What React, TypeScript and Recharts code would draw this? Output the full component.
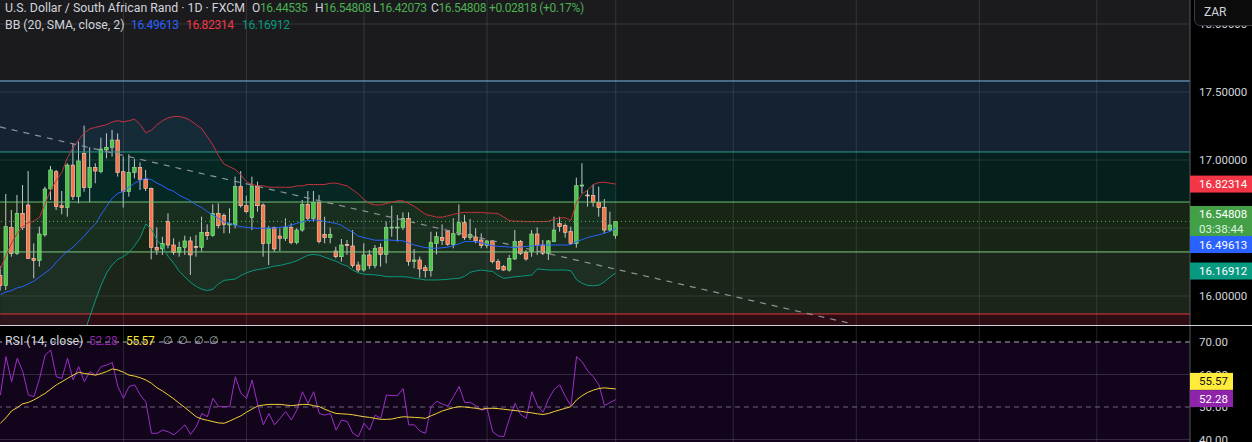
import React from "react";
import { ComposedChart, Bar, Line, Area, XAxis, YAxis, ReferenceLine, ReferenceArea } from "recharts";

// ---------- data (index -1 .. 109, one entry per daily candle) ----------
const START_INDEX = -1;
const opens = [16.150,16.076,16.505,16.314,16.608,16.669,16.277,16.260,16.449,16.787,16.914,16.664,16.650,16.963,16.731,17.049,16.797,16.944,16.914,17.074,17.093,17.147,16.914,16.767,16.909,16.946,16.858,16.792,16.358,16.346,16.547,16.375,16.319,16.358,16.405,16.365,16.358,16.468,16.444,16.608,16.591,16.522,16.522,16.804,16.664,16.576,16.809,16.669,16.387,16.503,16.441,16.424,16.505,16.392,16.485,16.674,16.571,16.689,16.454,16.429,16.331,16.289,16.380,16.368,16.228,16.191,16.302,16.223,16.356,16.306,16.503,16.503,16.503,16.571,16.253,16.265,16.208,16.186,16.387,16.431,16.478,16.380,16.454,16.539,16.429,16.434,16.412,16.370,16.405,16.253,16.216,16.191,16.272,16.400,16.321,16.326,16.456,16.375,16.314,16.400,16.532,16.517,16.473,16.387,16.809,16.743,16.738,16.689,16.650,16.485,16.44535];
const highs = [16.220,16.750,16.632,16.743,16.816,16.919,16.387,16.510,16.804,16.956,16.927,16.772,16.976,17.123,17.135,17.253,17.093,16.976,17.164,17.196,17.221,17.196,17.025,17.042,17.007,16.983,16.927,16.797,16.505,16.436,16.608,16.424,16.400,16.444,16.436,16.449,16.583,16.527,16.674,16.681,16.608,16.645,16.878,16.919,16.738,16.878,16.841,16.681,16.515,16.510,16.498,16.571,16.534,16.498,16.706,16.772,16.772,16.743,16.583,16.503,16.363,16.419,16.412,16.485,16.253,16.387,16.338,16.375,16.387,16.547,16.664,16.596,16.615,16.615,16.346,16.289,16.228,16.473,16.473,16.527,16.485,16.571,16.674,16.596,16.566,16.498,16.461,16.412,16.412,16.272,16.228,16.302,16.485,16.412,16.338,16.485,16.505,16.412,16.412,16.583,16.583,16.534,16.510,16.870,16.976,16.780,16.821,16.804,16.713,16.620,16.54808];
const lows = [16.040,16.044,16.289,16.302,16.485,16.272,16.130,16.216,16.436,16.706,16.632,16.601,16.583,16.706,16.681,16.767,16.689,16.829,16.902,17.012,17.025,16.878,16.650,16.731,16.865,16.780,16.772,16.270,16.302,16.302,16.351,16.302,16.289,16.302,16.155,16.289,16.326,16.412,16.436,16.498,16.461,16.461,16.498,16.650,16.608,16.485,16.620,16.289,16.228,16.326,16.331,16.405,16.380,16.380,16.473,16.552,16.547,16.387,16.387,16.387,16.277,16.253,16.302,16.208,16.174,16.179,16.199,16.204,16.216,16.240,16.436,16.400,16.485,16.223,16.204,16.135,16.135,16.142,16.306,16.375,16.370,16.351,16.444,16.412,16.412,16.387,16.351,16.351,16.240,16.191,16.184,16.179,16.265,16.302,16.260,16.289,16.302,16.302,16.265,16.395,16.473,16.429,16.375,16.356,16.755,16.657,16.657,16.583,16.461,16.473,16.42073];
const closes = [16.076,16.510,16.314,16.608,16.503,16.277,16.260,16.456,16.787,16.927,16.657,16.650,16.963,16.731,16.993,16.797,16.944,16.919,17.081,17.093,17.147,16.909,16.767,16.909,16.946,16.858,16.792,16.358,16.338,16.387,16.375,16.319,16.358,16.405,16.302,16.356,16.468,16.444,16.608,16.517,16.527,16.534,16.804,16.664,16.620,16.809,16.664,16.387,16.498,16.346,16.424,16.505,16.392,16.485,16.674,16.571,16.689,16.400,16.429,16.454,16.289,16.375,16.370,16.223,16.191,16.302,16.223,16.351,16.306,16.505,16.507,16.507,16.571,16.253,16.265,16.199,16.186,16.392,16.436,16.407,16.380,16.458,16.539,16.429,16.454,16.405,16.370,16.405,16.253,16.199,16.191,16.277,16.400,16.314,16.272,16.456,16.370,16.314,16.405,16.485,16.510,16.468,16.387,16.811,16.816,16.738,16.689,16.650,16.485,16.522,16.54808];

const bbUpper = [16.20,16.30,16.39,16.46,16.51,16.54,16.55,16.58,16.68,16.78,16.85,16.91,17.02,17.09,17.15,17.20,17.23,17.24,17.25,17.26,17.28,17.29,17.28,17.29,17.30,17.26,17.20,17.22,17.26,17.29,17.31,17.32,17.32,17.31,17.29,17.26,17.23,17.17,17.11,17.03,16.97,16.95,16.93,16.89,16.84,16.82,16.81,16.81,16.80,16.80,16.80,16.80,16.80,16.81,16.81,16.82,16.82,16.82,16.82,16.83,16.83,16.82,16.81,16.78,16.75,16.71,16.68,16.67,16.67,16.68,16.69,16.70,16.70,16.68,16.66,16.63,16.60,16.59,16.58,16.58,16.59,16.60,16.61,16.615,16.615,16.615,16.615,16.61,16.61,16.605,16.58,16.555,16.55,16.55,16.547,16.547,16.547,16.547,16.55,16.565,16.575,16.575,16.555,16.69,16.75,16.78,16.82,16.835,16.836,16.83,16.823];
const bbMiddle = [16.01,16.03,16.04,16.06,16.07,16.09,16.11,16.14,16.17,16.20,16.25,16.29,16.33,16.36,16.40,16.44,16.49,16.53,16.60,16.66,16.72,16.755,16.77,16.80,16.83,16.85,16.865,16.855,16.83,16.81,16.785,16.77,16.74,16.72,16.70,16.67,16.65,16.62,16.595,16.57,16.545,16.535,16.52,16.51,16.505,16.50,16.498,16.498,16.50,16.50,16.505,16.51,16.52,16.535,16.545,16.555,16.559,16.555,16.548,16.54,16.534,16.52,16.49,16.47,16.44,16.43,16.42,16.41,16.41,16.412,16.41,16.408,16.405,16.39,16.375,16.365,16.356,16.352,16.351,16.355,16.36,16.37,16.385,16.40,16.40,16.40,16.39,16.38,16.37,16.365,16.363,16.36,16.356,16.36,16.365,16.368,16.372,16.375,16.375,16.375,16.375,16.375,16.378,16.40,16.415,16.43,16.44,16.45,16.462,16.475,16.496];
const bbLower = [15.70,15.70,15.68,15.66,15.64,15.63,15.64,15.66,15.64,15.62,15.62,15.64,15.62,15.63,15.65,15.73,15.85,15.97,16.08,16.17,16.23,16.27,16.29,16.32,16.37,16.43,16.53,16.49,16.41,16.36,16.29,16.24,16.18,16.14,16.10,16.07,16.05,16.04,16.05,16.09,16.115,16.12,16.125,16.15,16.17,16.185,16.195,16.20,16.21,16.22,16.225,16.235,16.245,16.26,16.28,16.30,16.306,16.30,16.285,16.27,16.255,16.235,16.22,16.19,16.17,16.16,16.158,16.155,16.15,16.142,16.142,16.142,16.142,16.138,16.13,16.125,16.118,16.118,16.118,16.12,16.123,16.127,16.13,16.145,16.174,16.185,16.191,16.185,16.18,16.15,16.13,16.135,16.142,16.145,16.15,16.154,16.199,16.195,16.191,16.191,16.191,16.191,16.185,16.12,16.093,16.078,16.076,16.08,16.105,16.14,16.169];

const rsiValues = [53.7,65.5,57.8,65.0,60.9,53.7,53.2,58.8,66.0,67.5,59.3,58.8,65.0,58.3,62.4,57.8,60.9,59.8,62.4,62.9,63.7,56.3,52.7,56.3,56.8,53.7,51.6,41.9,41.9,42.9,42.4,41.4,42.9,44.5,41.6,43.9,48.0,47.0,52.7,50.1,50.1,50.1,59.3,54.2,52.7,58.3,50.6,44.5,48.0,44.5,46.5,48.6,46.0,49.1,54.7,51.1,54.7,48.0,47.5,48.0,42.9,46.0,45.5,41.9,40.9,45.0,42.9,47.5,46.5,53.7,53.5,53.5,55.7,44.5,44.5,42.6,41.9,50.1,51.8,50.9,50.3,53.2,56.3,51.4,51.4,50.4,49.0,49.6,42.4,41.1,40.9,46.5,51.1,47.7,46.5,54.7,50.4,48.4,52.5,55.4,56.8,53.2,50.3,65.5,63.9,61.1,59.3,56.8,50.4,51.4,52.28];
const rsiMa = [45.0,46.7,48.8,49.8,51.0,51.4,52.2,53.2,54.2,55.5,56.8,57.8,58.8,59.8,60.7,60.3,60.1,59.8,60.3,60.9,61.7,61.4,60.7,59.8,59.5,59.0,58.3,57.3,55.9,54.9,53.7,52.5,51.1,49.8,48.4,47.0,46.3,45.9,45.5,45.1,45.0,45.7,46.5,47.3,48.4,49.4,50.3,50.6,50.8,50.8,50.8,50.6,50.4,50.6,50.8,50.8,50.4,50.1,49.3,48.6,48.0,47.9,47.8,47.6,47.3,47.0,46.8,46.5,46.2,46.2,46.3,46.7,47.0,46.9,46.8,46.7,46.5,47.3,48.0,48.8,49.3,49.8,50.1,50.0,49.8,49.6,49.3,49.6,49.6,49.5,49.3,49.1,48.9,48.7,48.4,48.2,47.9,47.7,48.0,48.6,49.1,49.6,50.1,52.2,53.5,54.5,55.2,55.7,55.9,55.7,55.57];

const priceGrid = [16, 16.5, 17, 17.5, 18];
const priceTicks = [16, 17, 17.5, 18]; // 16.5 label is hidden behind the badges in the reference
const rsiTicks = [40, 50, 60, 70];
const monthGridIndex = [21, 43, 64, 86, 109, 130, 152, 174, 195];
const levelPrices = [17.581, 17.059, 16.691, 16.324, 15.868];
const levelColors = ["#7ab6e6", "#2a9d8f", "#6fbf73", "#7fc97f", "#e0363f"];
const zoneFills = ["#1b1b1e", "#152231", "#041f1c", "#172515", "#1c2519", "#2e0c13"];
const trendLine = [{ x: -1.073, y: 17.243 }, { x: 150.7, y: 15.801 }];
const priceDomain = [15.7868, 18.1765];
const rsiDomain = [39.23, 74.92];
const xDomain = [-1.073, 211.66];

const last = { o: "16.44535", h: "16.54808", l: "16.42073", c: "16.54808", chg: "+0.02818 (+0.17%)", timer: "03:38:44" };
const bbLegend = { mid: "16.49613", up: "16.82314", low: "16.16912" };
const rsiLegend = { rsi: "52.28", ma: "55.57" };

// ---------- build tables ----------
const mainData = opens.map((o, k) => ({
  x: k + START_INDEX,
  o, h: highs[k], l: lows[k], c: closes[k],
  range: [lows[k], highs[k]],
  band: [bbLower[k], bbUpper[k]],
  upper: bbUpper[k], mid: bbMiddle[k], lower: bbLower[k],
}));
const rsiData = rsiValues.map((v, k) => ({ x: k + START_INDEX, rsi: v, ma: rsiMa[k] }));
const zoneBounds = [priceDomain[1], ...levelPrices, priceDomain[0]];

const FONT = "Roboto, 'Noto Sans', sans-serif";
const AXIS_TEXT = "#d1d4dc";
const GRID = "rgba(140,144,156,0.22)";

const Candle = (props: any) => {
  const { x, y, width, height, payload } = props;
  if (payload == null || x == null) return null;
  const { o, h, l, c } = payload;
  const top = height < 0 ? y + height : y;
  const hh = Math.abs(height);
  const cx = x + width / 2;
  const ppu = hh / Math.max(h - l, 1e-6);
  const bTop = top + (h - Math.max(o, c)) * ppu;
  const bBot = top + (h - Math.min(o, c)) * ppu;
  const up = c >= o;
  const bh = Math.max(1, bBot - bTop);
  return (
    <g>
      <line x1={cx} x2={cx} y1={top} y2={top + hh} stroke="#c3c6cc" strokeWidth={1} />
      <rect x={cx - 1.8} y={bTop} width={3.6} height={bh}
        fill={up ? "#4fc44a" : "#f4764a"} stroke={up ? "#9be396" : "#ffd2c2"} strokeWidth={0.6} />
    </g>
  );
};

const badge = (text: string, bg: string, fg: string, dy: number, width: number, sub?: string) => (props: any) => {
  const vb = props.viewBox || {};
  const x0 = (vb.x || 0) + (vb.width || 0);
  const yc = (vb.y || 0) + dy;
  const h = sub ? 31 : 17;
  const y0 = yc - h / 2;
  return (
    <g>
      <rect x={x0} y={y0} width={width} height={h} fill={bg} />
      <text x={x0 + 9} y={sub ? y0 + 8.5 : yc} fill={fg} fontSize={11.5} fontFamily={FONT} dominantBaseline="central">{text}</text>
      {sub ? <text x={x0 + 9} y={y0 + 23} fill="#dff3e0" fontSize={11.5} fontFamily={FONT} dominantBaseline="central">{sub}</text> : null}
    </g>
  );
};

const abs = (left: number, top: number, color: string, extra: any = {}) => ({
  position: "absolute" as const, left, top, color, fontSize: 12.3, lineHeight: "16px", whiteSpace: "nowrap" as const, fontFamily: FONT, ...extra,
});
const NUM = { fontSize: 12, letterSpacing: -0.35 };

export default function App() {
  return (
    <div style={{ position: "fixed", left: 0, top: 0, width: 1252, height: 442, background: "#000", overflow: "hidden", fontFamily: FONT }}>
      {/* main price pane */}
      <div style={{ position: "absolute", left: 0, top: 0 }}>
        <ComposedChart width={1252} height={325} data={mainData} margin={{ top: 0, right: 0, bottom: 0, left: 0 }}>
          <XAxis dataKey="x" type="number" domain={xDomain} allowDataOverflow hide />
          <YAxis orientation="right" width={62} domain={priceDomain} allowDataOverflow ticks={priceTicks}
            tickFormatter={(v: number) => v.toFixed(5)} tick={{ fill: AXIS_TEXT, fontSize: 11.5, fontFamily: FONT }}
            tickLine={false} tickMargin={3} axisLine={{ stroke: "#55585f" }} interval={0} />
          {zoneFills.map((f, k) => (
            <ReferenceArea key={"z" + k} y1={zoneBounds[k + 1]} y2={zoneBounds[k]} x1={xDomain[0]} x2={xDomain[1]}
              fill={f} fillOpacity={1} stroke="none" ifOverflow="hidden" />
          ))}
          {priceGrid.map((p) => <ReferenceLine key={"g" + p} y={p} stroke={GRID} strokeWidth={1} />)}
          {monthGridIndex.map((m) => <ReferenceLine key={"v" + m} x={m} stroke={GRID} strokeWidth={1} />)}
          {levelPrices.map((p, k) => <ReferenceLine key={"l" + k} y={p} stroke={levelColors[k]} strokeWidth={1} />)}
          <Area dataKey="band" type="linear" fill="#26a69a" fillOpacity={0.07} stroke="none" isAnimationActive={false} activeDot={false} />
          <Line dataKey="upper" type="linear" stroke="#c5313f" strokeWidth={1} dot={false} activeDot={false} isAnimationActive={false} />
          <Line dataKey="mid" type="linear" stroke="#2962ff" strokeWidth={1} dot={false} activeDot={false} isAnimationActive={false} />
          <Line dataKey="lower" type="linear" stroke="#089981" strokeWidth={1} dot={false} activeDot={false} isAnimationActive={false} />
          <ReferenceLine segment={trendLine} stroke="#8f9299" strokeWidth={1.2} strokeDasharray="6 6" ifOverflow="hidden" />
          <Bar dataKey="range" shape={(p: any) => <Candle {...p} />} isAnimationActive={false} />
          <ReferenceLine y={closes[closes.length - 1]} stroke="#4caf50" strokeDasharray="1 3" strokeWidth={1} />
        </ComposedChart>
      </div>
      {/* price badges, drawn above the axis labels with the same scales */}
      <div style={{ position: "absolute", left: 0, top: 0, pointerEvents: "none" }}>
        <ComposedChart width={1252} height={325} data={mainData} margin={{ top: 0, right: 62, bottom: 0, left: 0 }}>
          <XAxis dataKey="x" type="number" domain={xDomain} allowDataOverflow hide />
          <YAxis domain={priceDomain} allowDataOverflow hide />
          <ReferenceLine y={closes[closes.length - 1]} stroke="transparent"
            label={badge(last.c, "#43a047", "#ffffff", 0, 62, last.timer)} />
          <ReferenceLine y={bbUpper[bbUpper.length - 1]} stroke="transparent"
            label={badge(bbLegend.up, "#f23645", "#ffffff", 0, 62)} />
          <ReferenceLine y={bbMiddle[bbMiddle.length - 1]} stroke="transparent"
            label={badge(bbLegend.mid, "#2962ff", "#ffffff", 16, 62)} />
          <ReferenceLine y={bbLower[bbLower.length - 1]} stroke="transparent"
            label={badge(bbLegend.low, "#089981", "#ffffff", -2, 62)} />
        </ComposedChart>
      </div>

      <div style={{ position: "absolute", left: 0, top: 325, width: 1252, height: 1, background: "#cfd2d8" }} />

      {/* RSI pane */}
      <div style={{ position: "absolute", left: 0, top: 326 }}>
        <ComposedChart width={1252} height={116} data={rsiData} margin={{ top: 0, right: 0, bottom: 0, left: 0 }}>
          <XAxis dataKey="x" type="number" domain={xDomain} allowDataOverflow hide />
          <YAxis orientation="right" width={62} domain={rsiDomain} allowDataOverflow ticks={rsiTicks}
            tickFormatter={(v: number) => v.toFixed(2)} tick={{ fill: AXIS_TEXT, fontSize: 11.5, fontFamily: FONT }}
            tickLine={false} tickMargin={3} axisLine={{ stroke: "#55585f" }} interval={0} />
          <ReferenceArea y1={70} y2={rsiDomain[1]} x1={xDomain[0]} x2={xDomain[1]} fill="#000000" fillOpacity={1} stroke="none" ifOverflow="hidden" />
          <ReferenceArea y1={rsiDomain[0]} y2={70} x1={xDomain[0]} x2={xDomain[1]} fill="#12041a" fillOpacity={1} stroke="none" ifOverflow="hidden" />
          {monthGridIndex.map((m) => <ReferenceLine key={"rv" + m} x={m} stroke="rgba(140,130,160,0.25)" strokeWidth={1} />)}
          <ReferenceLine y={60} stroke="rgba(140,130,160,0.3)" strokeWidth={1} />
          <ReferenceLine y={40} stroke="rgba(140,130,160,0.3)" strokeWidth={1} />
          <ReferenceLine y={70} stroke="#a9abb3" strokeDasharray="5 4" strokeWidth={1} />
          <ReferenceLine y={50} stroke="#6f6880" strokeDasharray="5 4" strokeWidth={1} />
          <Line dataKey="rsi" type="linear" stroke="#9c2fc9" strokeWidth={1} dot={false} activeDot={false} isAnimationActive={false} />
          <Line dataKey="ma" type="linear" stroke="#f3d23a" strokeWidth={1} dot={false} activeDot={false} isAnimationActive={false} />
        </ComposedChart>
      </div>
      <div style={{ position: "absolute", left: 0, top: 326, pointerEvents: "none" }}>
        <ComposedChart width={1252} height={116} data={rsiData} margin={{ top: 0, right: 62, bottom: 0, left: 0 }}>
          <XAxis dataKey="x" type="number" domain={xDomain} allowDataOverflow hide />
          <YAxis domain={rsiDomain} allowDataOverflow hide />
          <ReferenceLine y={rsiMa[rsiMa.length - 1]} stroke="transparent" label={badge(rsiLegend.ma, "#ffeb3b", "#131313", -7.5, 43)} />
          <ReferenceLine y={rsiValues[rsiValues.length - 1]} stroke="transparent" label={badge(rsiLegend.rsi, "#8e24aa", "#ffffff", -1, 43)} />
        </ComposedChart>
      </div>

      {/* legends */}
      <span style={abs(5, 0, "#d1d4dc")}>U.S. Dollar / South African Rand · 1D · FXCM</span>
      <span style={abs(252, 0, "#d1d4dc", NUM)}>O<span style={{ color: "#4caf50" }}>{last.o}</span></span>
      <span style={abs(315, 0, "#d1d4dc", NUM)}>H<span style={{ color: "#4caf50" }}>{last.h}</span></span>
      <span style={abs(373, 0, "#d1d4dc", NUM)}>L<span style={{ color: "#4caf50" }}>{last.l}</span></span>
      <span style={abs(431, 0, "#d1d4dc", NUM)}>C<span style={{ color: "#4caf50" }}>{last.c}</span></span>
      <span style={abs(489, 0, "#4caf50", NUM)}>{last.chg}</span>

      <span style={abs(5, 17, "#d1d4dc")}>BB (20, SMA, close, 2)</span>
      <span style={abs(131, 17, "#2962ff", NUM)}>{bbLegend.mid}</span>
      <span style={abs(186, 17, "#f23645", NUM)}>{bbLegend.up}</span>
      <span style={abs(242, 17, "#089981", NUM)}>{bbLegend.low}</span>

      <span style={abs(5, 333, "#d1d4dc")}>RSI (14, close)</span>
      <span style={abs(89, 333, "#8e24aa", NUM)}>{rsiLegend.rsi}</span>
      <span style={abs(126, 333, "#ffeb3b", NUM)}>{rsiLegend.ma}</span>
      <span style={abs(163, 333, "#b2b5be", { fontSize: 11 })}>∅&nbsp;&nbsp;∅&nbsp;&nbsp;∅&nbsp;&nbsp;∅</span>

      <div style={{ position: "absolute", left: 1194, top: -5, width: 64, height: 31, background: "#0c0c0d", border: "1px solid #3a3b40", borderRadius: 6, boxSizing: "border-box" }} />
      <span style={abs(1204, 4, "#d1d4dc", { fontSize: 12 })}>ZAR</span>
    </div>
  );
}
